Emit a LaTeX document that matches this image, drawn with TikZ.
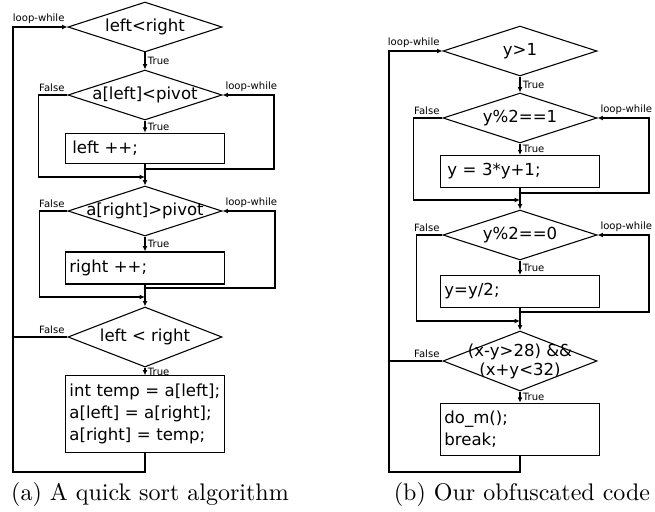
\documentclass[tikz,border=0pt]{standalone}
\usepackage{fontspec}
\newfontfamily\flowfont{DejaVu Sans}
\usepackage{tikz}
\usetikzlibrary{shapes.geometric}
\usetikzlibrary{arrows.meta}
\usetikzlibrary{positioning}

\tikzset{
    decision/.style = {diamond, draw, aspect = 3, inner sep = -3pt, minimum width = 64.2pt, minimum height = 20.8pt,
        align = center, font = \flowfont\fontsize{6.9}{7.9}\selectfont},
    process/.style  = {rectangle, draw, minimum height = 12.1pt, inner xsep = 1.6pt, text width = 63pt,
        align = left, font = \flowfont\fontsize{6.9}{9.2}\selectfont},
    tag/.style      = {inner sep = 1pt, font = \flowfont\fontsize{4.2}{5}\selectfont},
    flow/.style     = {-{Latex[length = 2.2pt, width = 2pt]}},
    caption/.style  = {anchor = base, inner sep = 0pt, font = \normalsize}
}

\begin{document}
\begin{tikzpicture}[x = 0.4167pt, y = -0.4167pt, line width = 0.45pt]
                \useasboundingbox (0,0) rectangle (655,511);

                % Draw the quick sort flowchart:
                \node [decision] (testA)  at (145, 27) {left<right};
                \node [decision] (leftA)  at (145, 95) {a[left]<pivot};
                \node [process]  (incA)   at (145,148.5) {\hspace{1.2pt}left ++;};
                \node [decision] (rightA) at (145,211) {a[right]>pivot};
                \node [process]  (decA)   at (145,268) {right ++;};
                \node [decision, aspect = 2.5, minimum height = 25pt] (endA) at (145,337) {left < right};
                \node [process, minimum height = 27.5pt] (swapA) at (145,414)
                    {int temp = a[left];\\a[left] = a[right];\\a[right] = temp;};

                \coordinate (joinA)  at (145,169);
                \coordinate (mergeA) at (145,177);
                \coordinate (joinB)  at (145,288);
                \coordinate (mergeB) at (145,297);
                \coordinate (backA)  at (13,472);

                \draw [flow] (testA) -- node [tag, right] {True} (leftA);
                \draw [flow] (leftA) -- node [tag, right] {True} (incA);
                \draw [flow] (leftA.west) node [tag, above left] {False} -- ++(-29,0) |- (mergeA);
                \draw [flow] (incA.south) -- (joinA) -- ++(129,0) |- (leftA.east)
                    node [tag, above right] {loop-while};
                \draw [flow] (joinA) -- (rightA);
                \draw [flow] (rightA) -- node [tag, right] {True} (decA);
                \draw [flow] (rightA.west) node [tag, above left] {False} -- ++(-28,0) |- (mergeB);
                \draw [flow] (decA.south) -- (joinB) -- ++(130,0) |- (rightA.east)
                    node [tag, above right] {loop-while};
                \draw [flow] (joinB) -- (endA);
                \draw [flow] (endA) -- node [tag, right] {True} (swapA);
                \draw (endA.west) node [tag, above left] {False} -- (endA.west -| backA);
                \draw [flow] (swapA.south) |- (backA) |- (testA.west)
                    node [tag, above left] {loop-while};

                % Draw the obfuscated flowchart:
                \node [decision] (testB)  at (520, 51) {y>1};
                \node [decision] (oddB)   at (520,118) {y\%2==1};
                \node [process]  (tripB)  at (520,171.5) {\hspace{1.2pt}y = 3*y+1;};
                \node [decision] (evenB)  at (520,235) {y\%2==0};
                \node [process]  (halfB)  at (520,291.5) {y=y/2;};
                \node [decision, aspect = 2.5, minimum height = 25pt] (endB) at (520,361)
                    {(x-y>28) \&\&\\(x+y<32)};
                \node [process, minimum height = 20.4pt] (callB) at (520,429.5) {do\_m();\\break;};

                \coordinate (joinC)  at (520,193);
                \coordinate (mergeC) at (520,200);
                \coordinate (joinD)  at (520,312);
                \coordinate (mergeD) at (520,321);
                \coordinate (backB)  at (389,472);

                \draw [flow] (testB) -- node [tag, right] {True} (oddB);
                \draw [flow] (oddB) -- node [tag, right] {True} (tripB);
                \draw [flow] (oddB.west) node [tag, above left] {False} -- ++(-29,0) |- (mergeC);
                \draw [flow] (tripB.south) -- (joinC) -- ++(129,0) |- (oddB.east)
                    node [tag, above right] {loop-while};
                \draw [flow] (joinC) -- (evenB);
                \draw [flow] (evenB) -- node [tag, right] {True} (halfB);
                \draw [flow] (evenB.west) node [tag, above left] {False} -- ++(-26,0) |- (mergeD);
                \draw [flow] (halfB.south) -- (joinD) -- ++(129,0) |- (evenB.east)
                    node [tag, above right] {loop-while};
                \draw [flow] (joinD) -- (endB);
                \draw [flow] (endB) -- node [tag, right] {True} (callB);
                \draw (endB.west) node [tag, above left] {False} -- (endB.west -| backB);
                \draw [flow] (callB.south) |- (backB) |- (testB.west)
                    node [tag, above left] {loop-while};

                % Draw the junction dots:
                \foreach \dot in {joinA, joinB, joinC, joinD}
                    \fill (\dot) circle (0.55pt);
                \fill (endA.west -| backA) circle (0.55pt);
                \fill (endB.west -| backB) circle (0.55pt);

                % Draw the captions:
                \node [caption] (capA) at (150,500) {(a) A quick sort algorithm};
                \node [caption] (capB) at (522,500) {(b) Our obfuscated code};
            \end{tikzpicture}
\end{document}
